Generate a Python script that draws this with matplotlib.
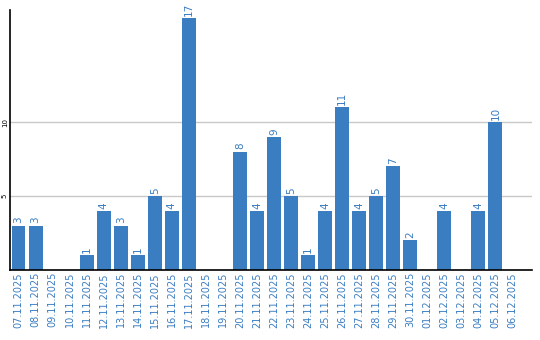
import matplotlib
matplotlib.use("Agg")
import matplotlib.pyplot as plt

dates = ["07.11.2025", "08.11.2025", "09.11.2025", "10.11.2025", "11.11.2025",
         "12.11.2025", "13.11.2025", "14.11.2025", "15.11.2025", "16.11.2025",
         "17.11.2025", "18.11.2025", "19.11.2025", "20.11.2025", "21.11.2025",
         "22.11.2025", "23.11.2025", "24.11.2025", "25.11.2025", "26.11.2025",
         "27.11.2025", "28.11.2025", "29.11.2025", "30.11.2025", "01.12.2025",
         "02.12.2025", "03.12.2025", "04.12.2025", "05.12.2025", "06.12.2025"]
counts = [3, 3, 0, 0, 1, 4, 3, 1, 5, 4, 17, 0, 0, 8, 4, 9, 5, 1, 4, 11,
          4, 5, 7, 2, 0, 4, 0, 4, 10, 0]
y_ticks = [5, 10]

blue = "#3a7dc1"

fig = plt.figure(figsize=(5.4, 3.4), dpi=100)
ax = fig.add_axes([10 / 540, 70 / 340, 522 / 540, 260 / 340])

x = list(range(len(dates)))
ax.bar(x, counts, width=0.82, color=blue, zorder=2)

# value labels above non-empty bars
for xi, v in zip(x, counts):
    if v > 0:
        ax.text(xi, v + 0.15, str(v), rotation=90, ha="center", va="bottom",
                color=blue, fontsize=7.5)

ax.set_xlim(-0.5, 30.15)
ax.set_ylim(0, 17.57)
ax.set_xticks(x)
ax.set_xticklabels(dates, rotation=90, color=blue, fontsize=7)
ax.set_yticks(y_ticks)
ax.set_yticklabels([str(t) for t in y_ticks], rotation=90, fontsize=5,
                   va="center")
ax.tick_params(length=0, pad=1.5)
ax.yaxis.grid(True, color="#c8c8c8", linewidth=1, zorder=0)
ax.spines["top"].set_visible(False)
ax.spines["right"].set_visible(False)
ax.spines["left"].set_linewidth(1.2)
ax.spines["bottom"].set_linewidth(1.2)

fig.savefig("out.png", dpi=100)
